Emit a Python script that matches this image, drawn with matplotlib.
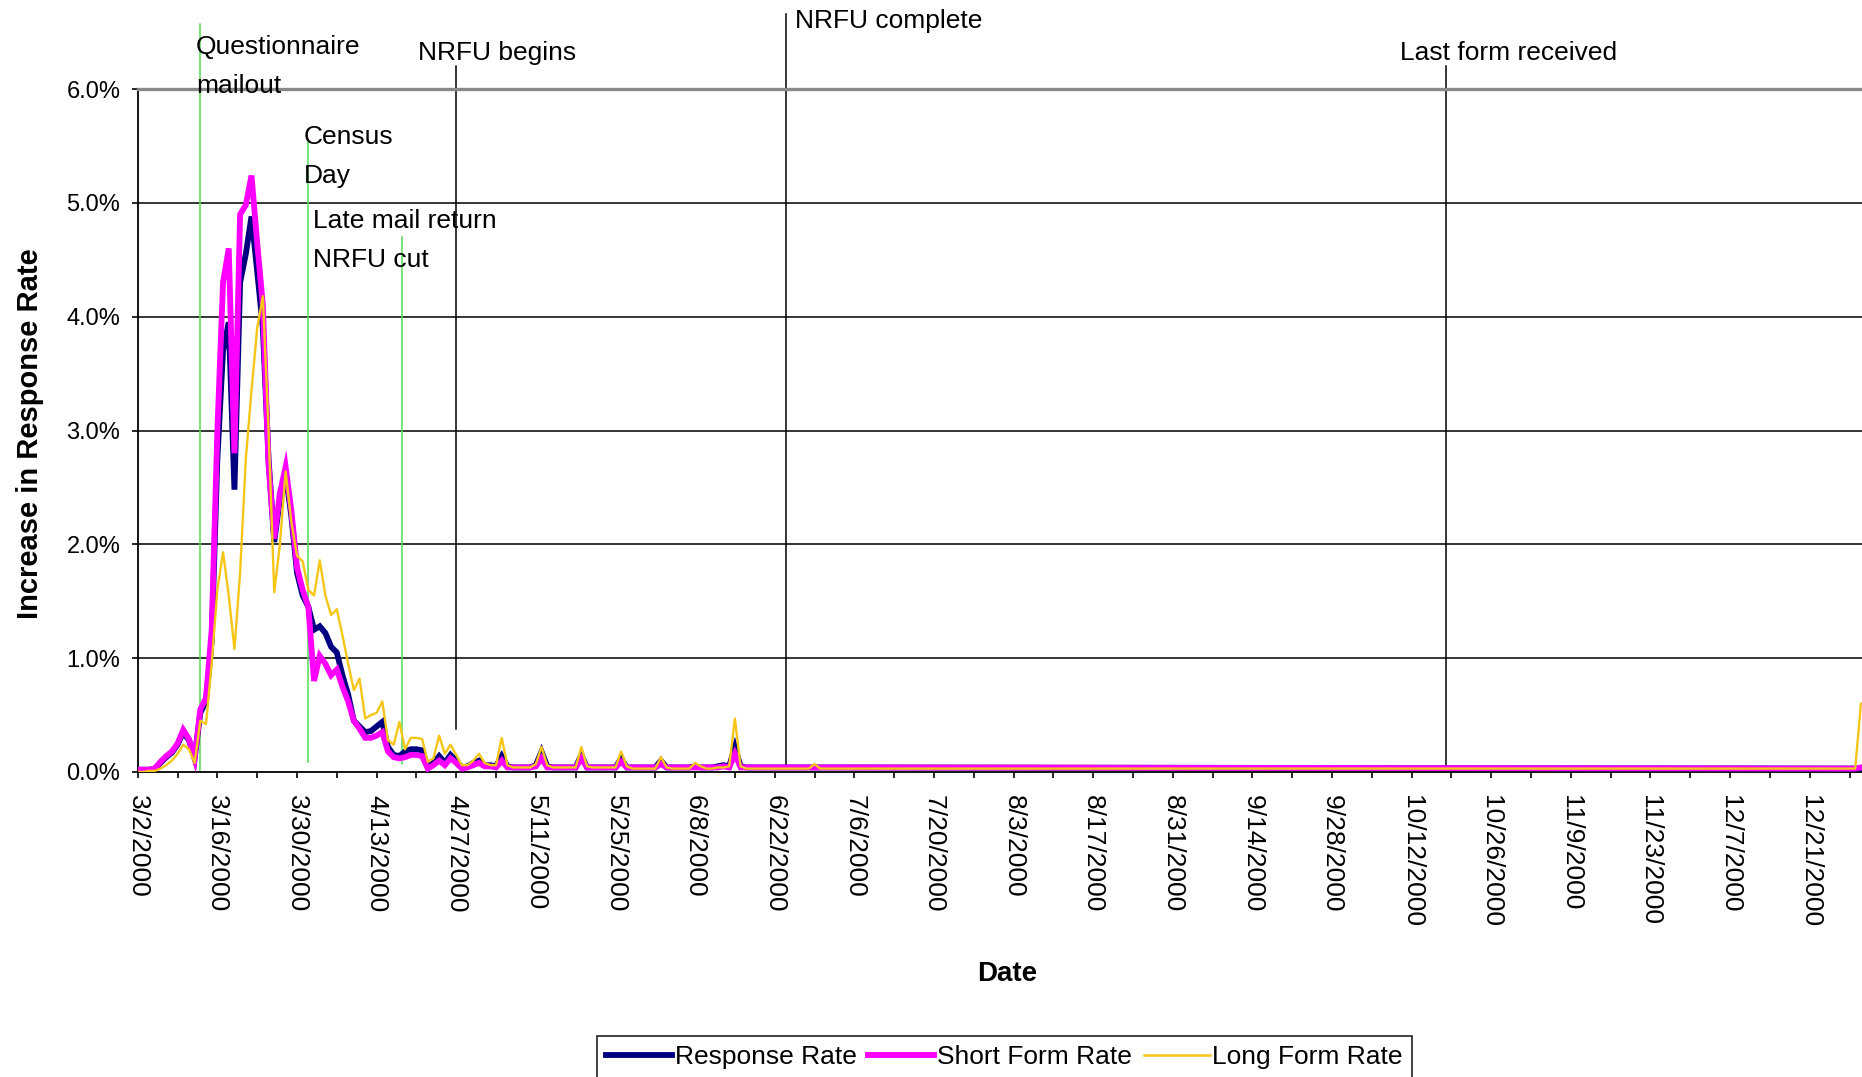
import matplotlib
matplotlib.use("Agg")
import matplotlib.pyplot as plt
import matplotlib.dates as mdates
from matplotlib.lines import Line2D
from matplotlib.ticker import FixedLocator, FuncFormatter
import pandas as pd

plt.rcParams["font.family"] = ["Liberation Sans", "DejaVu Sans"]

# ---------------------------------------------------------------------------
# Daily increase in response rate (percentage points), 3/2/2000 - 7/5/2000
# ---------------------------------------------------------------------------
start_date = "2000-03-02"

response_rate = [
    0.02, 0.02, 0.02, 0.03, 0.08, 0.13, 0.17, 0.24, 0.35, 0.28,   # 3/2 - 3/11
    0.12, 0.52, 0.62, 1.15, 2.75, 3.70, 3.95, 2.48, 4.30, 4.55,   # 3/12 - 3/21
    4.88, 4.40, 3.90, 2.75, 2.02, 2.40, 2.62, 2.25, 1.75, 1.55,   # 3/22 - 3/31
    1.45, 1.25, 1.28, 1.22, 1.10, 1.05, 0.85, 0.68, 0.45, 0.40,   # 4/1 - 4/10
    0.35, 0.36, 0.40, 0.44, 0.22, 0.15, 0.14, 0.18, 0.20, 0.20,   # 4/11 - 4/20
    0.19, 0.04, 0.08, 0.14, 0.08, 0.15, 0.10, 0.04, 0.05, 0.08,   # 4/21 - 4/30
    0.10, 0.06, 0.06, 0.05, 0.14, 0.05, 0.04, 0.04, 0.04, 0.04,   # 5/1 - 5/10
    0.06, 0.18, 0.05, 0.04, 0.04, 0.04, 0.04, 0.04, 0.15, 0.04,   # 5/11 - 5/20
    0.04, 0.04, 0.04, 0.04, 0.04, 0.12, 0.04, 0.04, 0.04, 0.04,   # 5/21 - 5/30
    0.04, 0.04, 0.10, 0.04, 0.04, 0.04, 0.04, 0.04, 0.05, 0.04,   # 5/31 - 6/9
    0.04, 0.04, 0.05, 0.06, 0.05, 0.22, 0.05, 0.04, 0.04, 0.04,   # 6/10 - 6/19
    0.04, 0.04, 0.04, 0.04, 0.04, 0.04, 0.04, 0.04, 0.04, 0.04,   # 6/20 - 6/29
    0.04, 0.04, 0.04, 0.04, 0.04, 0.04,                           # 6/30 - 7/5
]

short_form_rate = [
    0.02, 0.02, 0.02, 0.03, 0.09, 0.14, 0.18, 0.25, 0.37, 0.29,
    0.12, 0.55, 0.65, 1.25, 3.00, 4.30, 4.60, 2.80, 4.90, 4.98,
    5.24, 4.65, 4.10, 2.70, 2.05, 2.45, 2.68, 2.30, 1.80, 1.60,
    1.45, 0.80, 1.02, 0.95, 0.85, 0.90, 0.75, 0.62, 0.45, 0.38,
    0.30, 0.30, 0.32, 0.35, 0.18, 0.13, 0.12, 0.13, 0.15, 0.15,
    0.14, 0.03, 0.06, 0.10, 0.06, 0.12, 0.08, 0.03, 0.04, 0.06,
    0.08, 0.05, 0.05, 0.04, 0.10, 0.04, 0.04, 0.04, 0.04, 0.04,
    0.05, 0.12, 0.04, 0.04, 0.04, 0.04, 0.04, 0.04, 0.12, 0.04,
    0.04, 0.04, 0.04, 0.04, 0.04, 0.09, 0.04, 0.04, 0.04, 0.04,
    0.04, 0.04, 0.07, 0.04, 0.04, 0.04, 0.04, 0.04, 0.04, 0.04,
    0.04, 0.04, 0.04, 0.05, 0.04, 0.16, 0.04, 0.04, 0.04, 0.04,
    0.04, 0.04, 0.04, 0.04, 0.04, 0.04, 0.04, 0.04, 0.04, 0.04,
    0.04, 0.04, 0.04, 0.04, 0.04, 0.04,
]

long_form_rate = [
    0.00, 0.00, 0.01, 0.01, 0.03, 0.06, 0.10, 0.16, 0.24, 0.20,
    0.08, 0.45, 0.42, 0.95, 1.60, 1.93, 1.55, 1.08, 1.75, 2.75,
    3.35, 3.90, 4.18, 3.00, 1.58, 2.00, 2.64, 2.20, 1.90, 1.85,
    1.60, 1.55, 1.86, 1.55, 1.38, 1.43, 1.20, 0.95, 0.72, 0.82,
    0.47, 0.50, 0.52, 0.62, 0.28, 0.24, 0.44, 0.20, 0.30, 0.30,
    0.29, 0.09, 0.12, 0.32, 0.16, 0.24, 0.15, 0.06, 0.06, 0.10,
    0.16, 0.08, 0.06, 0.06, 0.30, 0.06, 0.04, 0.04, 0.04, 0.04,
    0.07, 0.22, 0.06, 0.04, 0.04, 0.04, 0.04, 0.04, 0.22, 0.05,
    0.04, 0.04, 0.04, 0.04, 0.04, 0.18, 0.05, 0.03, 0.03, 0.03,
    0.03, 0.03, 0.13, 0.04, 0.03, 0.03, 0.03, 0.03, 0.08, 0.05,
    0.03, 0.03, 0.04, 0.04, 0.05, 0.47, 0.05, 0.03, 0.03, 0.03,
    0.03, 0.03, 0.03, 0.03, 0.03, 0.03, 0.03, 0.03, 0.03, 0.07,
    0.03, 0.03, 0.03, 0.03, 0.03, 0.03,
]

# Year-end readings
tail_dates = ["2000-12-29", "2000-12-30"]
tail_response = [0.03, 0.03]
tail_short = [0.03, 0.04]
tail_long = [0.03, 0.60]

series_names = ["Response Rate", "Short Form Rate", "Long Form Rate"]

# Operational milestones
event_labels = ["Questionnaire\nmailout", "Census\nDay", "Late mail return\nNRFU cut",
                "NRFU begins", "NRFU complete", "Last form received"]
event_dates = ["2000-03-13", "2000-04-01", "2000-04-17 12:00",
               "2000-04-27", "2000-06-24", "2000-10-18"]

tick_labels = ["3/2/2000", "3/16/2000", "3/30/2000", "4/13/2000", "4/27/2000",
               "5/11/2000", "5/25/2000", "6/8/2000", "6/22/2000", "7/6/2000",
               "7/20/2000", "8/3/2000", "8/17/2000", "8/31/2000", "9/14/2000",
               "9/28/2000", "10/12/2000", "10/26/2000", "11/9/2000", "11/23/2000",
               "12/7/2000", "12/21/2000"]

# ---------------------------------------------------------------------------
W, H = 1862, 1077
fig = plt.figure(figsize=(W / 100, H / 100), dpi=100)
fig.patch.set_facecolor("white")

ax_left, ax_right = 137.75, 1866.6
ax_top, ax_bottom = 89.0, 772.0
ax = fig.add_axes([ax_left / W, 1 - ax_bottom / H,
                   (ax_right - ax_left) / W, (ax_bottom - ax_top) / H])

daily = pd.date_range(start_date, periods=len(response_rate), freq="D")
dates = list(daily) + list(pd.to_datetime(tail_dates))

resp = response_rate + tail_response
short = short_form_rate + tail_short
longf = long_form_rate + tail_long

navy, magenta, gold, green = "#000080", "#ff00ff", "#f5c518", "#55dd55"

ax.plot(dates, resp, color=navy, lw=4.2, solid_joinstyle="miter", zorder=3)
ax.plot(dates, short, color=magenta, lw=4.2, solid_joinstyle="miter", zorder=4)
ax.plot(dates, longf, color=gold, lw=1.7, zorder=5)

x0 = pd.Timestamp(start_date)
ax.set_xlim(x0, pd.Timestamp("2000-12-31"))
ax.set_ylim(0, 6)

# gridlines
for v in range(1, 6):
    ax.axhline(v, color="black", lw=1.1, zorder=1)

# milestone lines (extents in percent) and their labels
line_spans = [(0.02, 6.57), (0.09, 5.55), (0.07, 4.70), (0.38, 6.20), (0.06, 6.66), (0.06, 6.20)]
line_colors = [green, green, green, "black", "black", "black"]
label_pos = [(-0.8, 6.20), (-0.8, 5.41), (-15.6, 4.67), (-6.7, 6.32), (1.5, 6.60), (-8.0, 6.32)]

for lab, d, (lo, hi), col, (dx, ty) in zip(event_labels, event_dates, line_spans,
                                             line_colors, label_pos):
    t = pd.Timestamp(d)
    ax.plot([t, t], [lo, hi], color=col, lw=1.1, clip_on=False, zorder=2)
    ax.text(t + pd.Timedelta(days=dx), ty, lab, ha="left", va="center",
            fontsize=19, linespacing=1.8, color="black", clip_on=False, zorder=6)

# axes
ax.spines["right"].set_visible(False)
ax.spines["top"].set_color("#888888")
ax.spines["top"].set_linewidth(2.4)
ax.spines["left"].set_linewidth(1.3)
ax.spines["bottom"].set_linewidth(1.3)

ax.yaxis.set_major_locator(FixedLocator(range(0, 7)))
ax.yaxis.set_major_formatter(FuncFormatter(lambda v, p: f"{v:.1f}%"))

tick_dates = pd.to_datetime(tick_labels, format="%m/%d/%Y")
ax.xaxis.set_major_locator(FixedLocator(mdates.date2num(tick_dates)))
ax.xaxis.set_minor_locator(FixedLocator(mdates.date2num(tick_dates + pd.Timedelta(days=7))))
ax.set_xticklabels(tick_labels, rotation=-90, ha="center", va="top")

ax.tick_params(axis="both", which="both", direction="out", length=4.5, width=1.2,
               color="black")
ax.tick_params(axis="x", which="major", pad=12, labelsize=19)
ax.tick_params(axis="y", pad=8, labelsize=17)

ax.set_xlabel("Date", fontsize=20, fontweight="bold", va="center")
ax.xaxis.set_label_coords(0.503, (ax_bottom - 974) / (ax_bottom - ax_top))
ax.set_ylabel("Increase in Response Rate", fontsize=21, fontweight="bold", va="center")
ax.yaxis.set_label_coords((30 - ax_left) / (ax_right - ax_left), 0.495)

handles = [Line2D([], [], color=navy, lw=4.2),
           Line2D([], [], color=magenta, lw=4.2),
           Line2D([], [], color=gold, lw=1.8)]
leg = fig.legend(handles, series_names, loc="upper center",
                 bbox_to_anchor=(0.5395, 1 - 1035.5 / H), ncol=3, fontsize=19,
                 frameon=True, fancybox=False, shadow=False, handlelength=2.5,
                 handletextpad=0.1, columnspacing=0.45, borderpad=0.35,
                 borderaxespad=0)
leg.get_frame().set_edgecolor("black")
leg.get_frame().set_linewidth(1.3)

fig.savefig("out.png", dpi=100)
